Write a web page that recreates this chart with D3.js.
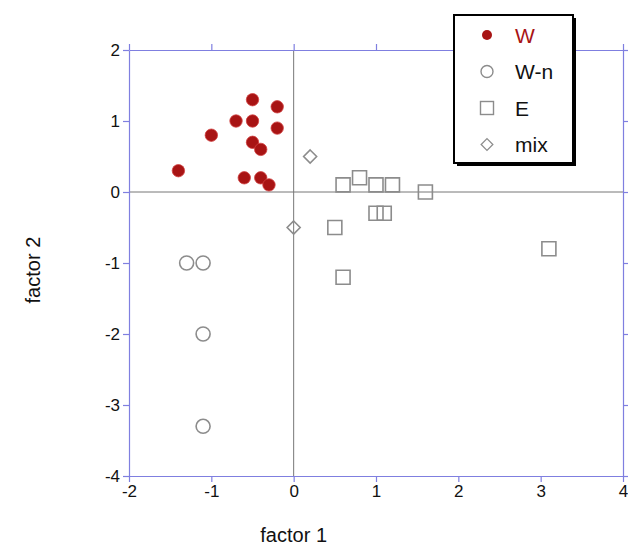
<!DOCTYPE html>
<html>
<head>
<meta charset="utf-8">
<script src="https://cdn.jsdelivr.net/npm/d3@7"></script>
<style>
  body { margin: 0; background: #fff; }
  svg { display: block; font-family: "Liberation Sans", Arial, sans-serif; }
</style>
</head>
<body>
<svg id="chart" width="628" height="548"></svg>
<script>
// ─── Data ────────────────────────────────────────────────────────────────────
const W_pts   = [[-1.4, 0.3], [-1.0, 0.8], [-0.7, 1.0], [-0.5, 1.3], [-0.5, 1.0], [-0.2, 1.2],
                 [-0.2, 0.9], [-0.5, 0.7], [-0.4, 0.6], [-0.6, 0.2], [-0.4, 0.2], [-0.3, 0.1]];
const Wn_pts  = [[-1.3, -1.0], [-1.1, -1.0], [-1.1, -2.0], [-1.1, -3.3]];
const E_pts   = [[0.6, 0.1], [0.8, 0.2], [1.0, 0.1], [1.2, 0.1], [1.6, 0.0], [1.0, -0.3],
                 [1.1, -0.3], [0.5, -0.5], [0.6, -1.2], [3.1, -0.8]];
const mix_pts = [[0.2, 0.5], [0.0, -0.5]];

const xTicks = [-2, -1, 0, 1, 2, 3, 4];
const yTicks = [-4, -3, -2, -1, 0, 1, 2];
const legendLabels = ['W', 'W-n', 'E', 'mix'];

// ─── Layout ──────────────────────────────────────────────────────────────────
const frame = '#7f7fe0';
const gray  = '#8c8c8c';
const red   = '#a81414';
const svg = d3.select('#chart');

const x = d3.scaleLinear().domain([-2, 4]).range([129, 623]);
const y = d3.scaleLinear().domain([-4, 2]).range([476, 50]);
const fmt = d => String(d);   // plain hyphen minus, as in the original

// zero lines
svg.append('line')
  .attr('x1', x(-2)).attr('x2', x(4)).attr('y1', y(0)).attr('y2', y(0))
  .attr('stroke', '#777').attr('stroke-width', 1);
svg.append('line')
  .attr('x1', x(0)).attr('x2', x(0)).attr('y1', y(-4)).attr('y2', y(2))
  .attr('stroke', '#777').attr('stroke-width', 1);

function styleAxis(sel, labels) {
  sel.select('.domain').attr('stroke', frame).attr('stroke-width', 1.2);
  sel.selectAll('line').attr('stroke', frame).attr('stroke-width', 1.2);
  if (!labels) sel.selectAll('text').remove();
  else sel.selectAll('text').attr('fill', '#111').style('font-size', '17px');
}

svg.append('g').attr('transform', `translate(0,${y(-4)})`)
  .call(d3.axisBottom(x).tickValues(xTicks).tickSize(6).tickSizeOuter(0).tickPadding(3).tickFormat(fmt))
  .call(sel => styleAxis(sel, true));
svg.append('g').attr('transform', `translate(0,${y(2)})`)
  .call(d3.axisTop(x).tickValues(xTicks).tickSize(6).tickSizeOuter(0))
  .call(sel => styleAxis(sel, false));
svg.append('g').attr('transform', `translate(${x(-2)},0)`)
  .call(d3.axisLeft(y).tickValues(yTicks).tickSize(6).tickSizeOuter(0).tickPadding(3).tickFormat(fmt))
  .call(sel => styleAxis(sel, true));
svg.append('g').attr('transform', `translate(${x(4)},0)`)
  .call(d3.axisRight(y).tickValues(yTicks).tickSize(6).tickSizeOuter(0))
  .call(sel => styleAxis(sel, false));

// axis titles
svg.append('text').attr('x', x(0)).attr('y', 542).attr('text-anchor', 'middle')
  .style('font-size', '20px').attr('fill', '#111').text('factor 1');
svg.append('text').attr('transform', `translate(40,${y(-1.1)}) rotate(-90)`).attr('text-anchor', 'middle')
  .style('font-size', '20px').attr('fill', '#111').text('factor 2');

// ─── Markers ─────────────────────────────────────────────────────────────────
const sq = d3.symbol().type(d3.symbolSquare).size(196)();
const dm = 'M0,-6.5L6.5,0L0,6.5L-6.5,0Z';

const plot = svg.append('g');
plot.selectAll('.wn').data(Wn_pts).join('circle')
  .attr('cx', d => x(d[0])).attr('cy', d => y(d[1])).attr('r', 7)
  .attr('fill', 'none').attr('stroke', gray).attr('stroke-width', 1.6);
plot.selectAll('.e').data(E_pts).join('path')
  .attr('transform', d => `translate(${x(d[0])},${y(d[1])})`).attr('d', sq)
  .attr('fill', 'none').attr('stroke', gray).attr('stroke-width', 1.6);
plot.selectAll('.mix').data(mix_pts).join('path')
  .attr('transform', d => `translate(${x(d[0])},${y(d[1])})`).attr('d', dm)
  .attr('fill', 'none').attr('stroke', gray).attr('stroke-width', 1.6);
plot.selectAll('.w').data(W_pts).join('circle')
  .attr('cx', d => x(d[0])).attr('cy', d => y(d[1])).attr('r', 6.2)
  .attr('fill', red).attr('stroke', '#d04040').attr('stroke-width', 0.8);

// ─── Legend ──────────────────────────────────────────────────────────────────
const lg = svg.append('g').attr('transform', 'translate(454,15)');
lg.append('rect').attr('x', 3).attr('y', 3).attr('width', 119).attr('height', 148).attr('fill', '#000');
lg.append('rect').attr('width', 119).attr('height', 148)
  .attr('fill', '#fff').attr('stroke', '#000').attr('stroke-width', 2);

const rows = lg.selectAll('.row').data(legendLabels).join('g')
  .attr('transform', (d, i) => `translate(0,${20 + i * 36.5})`);
rows.append('text').attr('x', 61).attr('dy', '0.36em')
  .style('font-size', '21px').attr('fill', (d, i) => i === 0 ? red : '#111').text(d => d);

const lm = lg.append('g').attr('transform', 'translate(33,0)');
lm.append('circle').attr('cx', 0).attr('cy', 20).attr('r', 5).attr('fill', red);
lm.append('circle').attr('cx', 0).attr('cy', 56.5).attr('r', 6)
  .attr('fill', 'none').attr('stroke', gray).attr('stroke-width', 1.4);
lm.append('rect').attr('x', -6.5).attr('y', 93 - 6.5).attr('width', 13).attr('height', 13)
  .attr('fill', 'none').attr('stroke', gray).attr('stroke-width', 1.4);
lm.append('path').attr('transform', 'translate(0,129.5) scale(0.9)').attr('d', dm)
  .attr('fill', 'none').attr('stroke', gray).attr('stroke-width', 1.4);
</script>
</body>
</html>
